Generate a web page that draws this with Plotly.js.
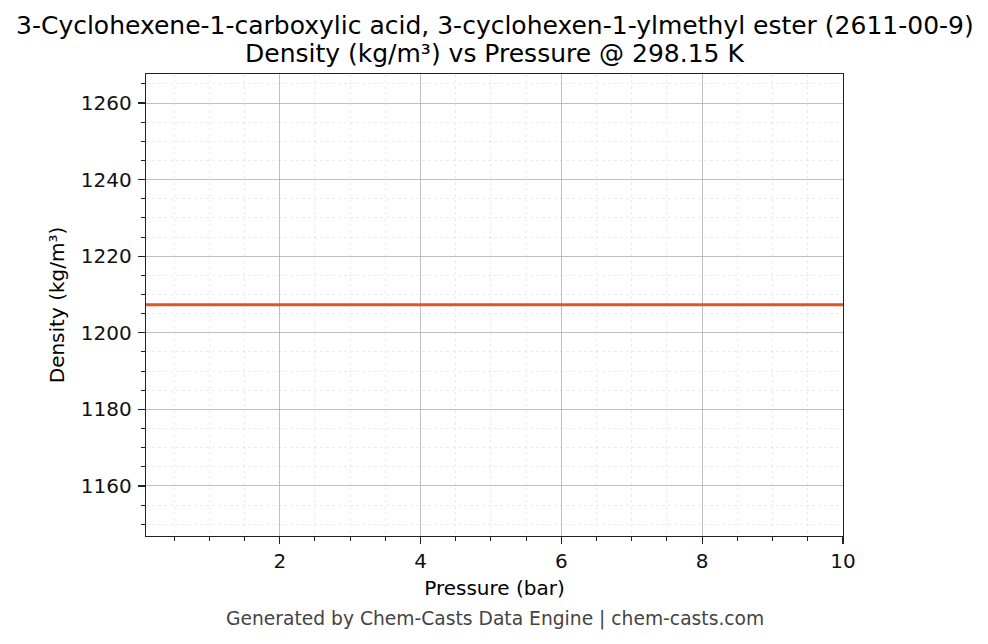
<!DOCTYPE html>
<html>
<head>
<meta charset="utf-8">
<script src="https://cdn.plot.ly/plotly-3.0.1.min.js"></script>
<style>
html,body{margin:0;padding:0;background:#fff;}
#chart{width:988px;height:644px;}
</style>
</head>
<body>
<div id="chart"></div>
<script>
const pressureBar = [0.1, 1, 2, 3, 4, 5, 6, 7, 8, 9, 10];
const densityKgM3 = [1207.3, 1207.3, 1207.3, 1207.3, 1207.3, 1207.3, 1207.3, 1207.3, 1207.3, 1207.3, 1207.3];
const titleLine1 = "3-Cyclohexene-1-carboxylic acid, 3-cyclohexen-1-ylmethyl ester (2611-00-9)";
const titleLine2 = "Density (kg/m³) vs Pressure @ 298.15 K";
const xLabel = "Pressure (bar)";
const yLabel = "Density (kg/m³)";
const footer = "Generated by Chem-Casts Data Engine | chem-casts.com";

const font = "DejaVu Sans, sans-serif";
const trace = {
  x: pressureBar, y: densityKgM3, mode: 'lines', type: 'scatter',
  line: {color: '#dd5522', width: 3}, hoverinfo: 'skip'
};
const axisCommon = {
  showline: true, mirror: true, linecolor: '#222', linewidth: 1.3,
  ticks: 'outside', ticklen: 7, tickwidth: 1.3, tickcolor: '#222',
  showgrid: true, gridcolor: '#b0b0b0', gridwidth: 0.8,
  zeroline: false,
  tickfont: {family: font, size: 20, color: '#111'},
};
const layout = {
  width: 988, height: 644,
  paper_bgcolor: '#fff', plot_bgcolor: '#fff',
  margin: {l: 146, r: 145, t: 74, b: 108},
  showlegend: false,
  xaxis: Object.assign({}, axisCommon, {
    range: [0.1, 10], tick0: 0, dtick: 2,
    minor: {dtick: 0.5, tick0: 0, ticks: 'outside', ticklen: 4, tickwidth: 1, tickcolor: '#222',
            showgrid: true, gridcolor: '#e0e0e0', gridwidth: 0.6, griddash: 'dot'},
    title: {text: xLabel, font: {family: font, size: 20, color: '#000'}, standoff: 8}
  }),
  yaxis: Object.assign({}, axisCommon, {
    range: [1146.9, 1267.6], tick0: 1160, dtick: 20, ticklabelstandoff: 2,
    minor: {dtick: 5, tick0: 1160, ticks: 'outside', ticklen: 4, tickwidth: 1, tickcolor: '#222',
            showgrid: true, gridcolor: '#e0e0e0', gridwidth: 0.6, griddash: 'dot'},
    title: {text: yLabel, font: {family: font, size: 20, color: '#000'}, standoff: 10}
  }),
  annotations: [
    {text: titleLine1, xref: 'paper', yref: 'paper', x: 0.5, y: (536 - 25) / 462, xanchor: 'center', yanchor: 'middle',
     showarrow: false, font: {family: font, size: 25, color: '#000'}},
    {text: titleLine2, xref: 'paper', yref: 'paper', x: 0.5, y: (536 - 53) / 462, xanchor: 'center', yanchor: 'middle',
     showarrow: false, font: {family: font, size: 25, color: '#000'}},
    {text: footer, xref: 'paper', yref: 'paper', x: 0.5, y: (536 - 619) / 462, xanchor: 'center', yanchor: 'middle',
     showarrow: false, font: {family: font, size: 18.7, color: '#444'}}
  ]
};
Plotly.newPlot('chart', [trace], layout, {staticPlot: true, displayModeBar: false});
</script>
</body>
</html>
